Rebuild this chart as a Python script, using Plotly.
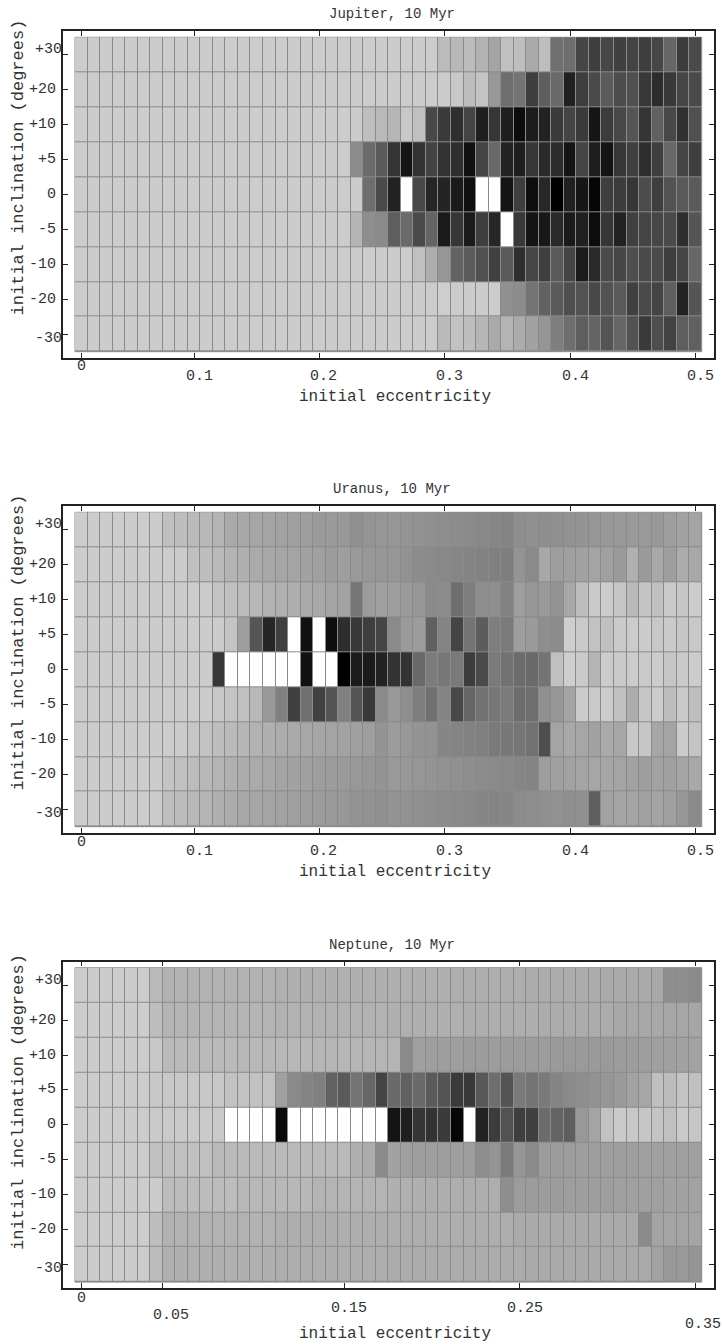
import plotly.graph_objects as go

W, H = 723, 1344

# ---------------- data ----------------
inclination = ["+30", "+20", "+10", "+5", "0", "-5", "-10", "-20", "-30"]

ecc_jupiter = [round(0.01 * k, 2) for k in range(1, 51)]
ecc_uranus = [round(0.01 * k, 2) for k in range(1, 51)]
ecc_neptune = [round(k / 140, 5) for k in range(50)]

# grey level of each cell (0 = black, 255 = white), rows top (+30) to bottom (-30)
jupiter_shade = [
    [204] * 25 + [204, 204, 204, 204, 187, 184, 188, 178, 164, 192, 190, 170, 190, 112, 110, 69, 62, 71, 64, 68, 62, 70, 102, 60, 74],
    [204] * 25 + [204, 204, 204, 204, 204, 200, 189, 196, 152, 110, 116, 62, 94, 106, 32, 62, 74, 90, 76, 80, 56, 44, 57, 70, 74],
    [204] * 23 + [190, 185] + [182, 200, 192, 72, 58, 46, 68, 30, 54, 30, 12, 28, 34, 58, 68, 58, 21, 60, 72, 85, 52, 96, 72, 48, 80],
    [204] * 22 + [140, 106, 90] + [52, 20, 51, 68, 51, 46, 16, 68, 104, 34, 30, 54, 42, 44, 20, 68, 30, 20, 54, 62, 46, 62, 104, 68, 62],
    [204] * 23 + [110, 74] + [34, 255, 72, 38, 36, 26, 16, 255, 255, 20, 62, 14, 40, 0, 32, 22, 6, 62, 60, 54, 76, 62, 82, 89, 90],
    [204] * 22 + [181, 142, 138] + [94, 106, 74, 100, 26, 54, 26, 62, 38, 255, 56, 20, 24, 42, 26, 32, 12, 54, 34, 64, 68, 70, 74, 46, 85],
    [204] * 25 + [204, 204, 192, 174, 150, 98, 92, 80, 64, 90, 46, 70, 62, 90, 68, 26, 42, 74, 70, 78, 74, 74, 62, 70, 102],
    [204] * 25 + [204, 204, 204, 204, 206, 204, 204, 204, 204, 144, 140, 116, 98, 90, 78, 82, 72, 82, 90, 64, 74, 68, 94, 34, 85],
    [204] * 25 + [204, 204, 204, 204, 186, 194, 190, 182, 170, 180, 172, 162, 150, 126, 110, 94, 100, 84, 102, 82, 58, 78, 66, 94, 96],
]

uranus_shade = [
    [204] * 7 + [192, 190, 186, 184, 180, 170, 168, 166, 164, 162, 160, 158, 154, 154, 152, 144, 148, 150]
    + [150, 148, 146, 144, 142, 140, 138, 136, 134, 132, 142, 144, 142, 144, 146, 148, 150, 152, 152, 154, 154, 152, 158, 162, 164],
    [204] * 9 + [192, 190, 186, 180, 176, 170, 168, 166, 164, 162, 160, 156, 158, 154, 152, 150]
    + [150, 146, 140, 138, 136, 134, 132, 130, 128, 126, 148, 138, 168, 158, 160, 162, 164, 160, 154, 176, 154, 168, 158, 172, 168],
    [204] * 11 + [196, 192, 188, 184, 178, 176, 174, 170, 168, 164, 162, 118, 156, 160]
    + [158, 154, 150, 138, 140, 110, 126, 142, 142, 130, 158, 150, 154, 148, 168, 190, 202, 204, 198, 186, 196, 192, 202, 198, 204],
    [204] * 12 + [196, 158, 85, 38, 64, 255, 17, 255, 14, 46, 56, 62, 69]
    + [138, 154, 156, 96, 132, 68, 116, 92, 126, 122, 158, 154, 142, 140, 206, 202, 194, 192, 202, 204, 204, 200, 202, 198, 200],
    [204] * 11 + [54, 255, 255, 255, 255, 255, 255, 17, 255, 255, 0, 28, 26, 34]
    + [51, 51, 106, 124, 120, 122, 60, 74, 122, 114, 108, 106, 116, 192, 206, 202, 180, 204, 202, 204, 202, 204, 198, 202, 204],
    [204] * 11 + [200, 196, 192, 184, 153, 128, 64, 112, 64, 85, 128, 85, 56, 138]
    + [152, 142, 126, 112, 132, 72, 102, 114, 118, 122, 108, 110, 144, 150, 164, 204, 202, 204, 192, 172, 198, 204, 190, 202, 190],
    [204] * 9 + [198, 194, 190, 186, 182, 178, 176, 172, 170, 168, 166, 164, 162, 160, 158, 148]
    + [156, 152, 148, 146, 134, 132, 130, 128, 122, 120, 118, 114, 78, 164, 168, 166, 162, 170, 166, 200, 198, 166, 164, 204, 196],
    [204] * 7 + [196, 192, 188, 184, 180, 176, 172, 170, 168, 164, 162, 160, 158, 156, 154, 152, 150, 148]
    + [154, 152, 150, 148, 146, 144, 142, 140, 138, 136, 134, 132, 158, 160, 162, 164, 166, 166, 164, 162, 158, 162, 160, 164, 168],
    [204] * 7 + [190, 188, 184, 180, 176, 172, 168, 166, 164, 162, 160, 158, 156, 154, 152, 148, 146, 144]
    + [148, 146, 144, 142, 140, 138, 136, 134, 132, 134, 140, 142, 144, 146, 142, 144, 94, 162, 164, 164, 162, 164, 160, 150, 138],
]

neptune_shade = [
    [204] * 6 + [186] + [178] * 9 + [176] * 9
    + [176, 176, 176, 176, 176, 174, 174, 174, 174, 174, 174, 172, 172, 172, 172, 172, 172, 170, 170, 170, 170, 168, 142, 142, 138],
    [204] * 6 + [190] + [180] * 9 + [178] * 9
    + [176] * 6 + [174] * 6 + [172] * 6 + [168] * 4 + [166] * 3,
    [204] * 6 + [200] + [186] * 6 + [184] * 6 + [182] * 6
    + [180, 138, 160, 158, 158, 158, 156, 156, 156, 156, 156, 156, 156, 154, 154, 154, 154, 154, 156, 156, 158, 160, 160, 162, 162],
    [204] * 6 + [200] * 6 + [194] * 4 + [160, 138, 132, 128, 98, 90, 116, 102, 68]
    + [106, 96, 106, 90, 84, 58, 56, 88, 110, 84, 122, 116, 122, 132, 138, 142, 146, 150, 154, 162, 166, 192, 188, 196, 192],
    [204] * 6 + [202] * 6 + [255] * 4 + [10] + [255] * 8
    + [20, 30, 53, 51, 58, 6, 255, 34, 60, 82, 62, 64, 108, 100, 94, 152, 164, 194, 202, 200, 198, 196, 192, 202, 198],
    [204] * 6 + [192] * 5 + [186] * 11 + [176, 172, 138]
    + [162, 160, 158, 158, 158, 158, 158, 142, 148, 122, 150, 138, 156, 156, 156, 158, 158, 158, 158, 158, 160, 160, 160, 160, 160],
    [204] * 7 + [188] * 6 + [184] * 6 + [180] * 6
    + [176, 176, 176, 174, 174, 174, 174, 174, 174, 142, 156, 156, 156, 156, 158, 158, 158, 158, 160, 160, 160, 160, 162, 162, 162],
    [204] * 6 + [190] + [178] * 9 + [174] * 9
    + [174] * 10 + [170] * 10 + [138, 164, 164, 164, 164],
    [204] * 6 + [188] + [176] * 9 + [174] * 9
    + [172] * 11 + [170] * 10 + [162, 152, 154, 148],
]

jupiter_tickvals = [0.01, 0.10, 0.20, 0.30, 0.40, 0.50]
jupiter_ticktext = ["0", "0.1", "0.2", "0.3", "0.4", "0.5"]
uranus_tickvals = [0.01, 0.10, 0.20, 0.30, 0.40, 0.50]
uranus_ticktext = ["0", "0.1", "0.2", "0.3", "0.4", "0.5"]
neptune_tickvals = [0.0, 0.0464, 0.15, 0.25, 0.35]
neptune_ticktext = ["0", "0.05", "0.15", "0.25", "0.35"]

titles = ["Jupiter, 10 Myr", "Uranus, 10 Myr", "Neptune, 10 Myr"]

# ---------------- layout geometry (pixels) ----------------
CELL_L, CELL_R = 75.0, 701.7
FRAME_L, FRAME_R = 63.0, 714.0
CELLS_H = 314.4
ROW_H = CELLS_H / 9
PAD = 6.0
FONT = "Liberation Mono, Courier New, monospace"
TXT = "#333333"
GRID = "#8a8a8a"

panels = [
    dict(title=titles[0], ecc=ecc_jupiter, z=jupiter_shade, tv=jupiter_tickvals, tt=jupiter_ticktext,
         top=37.3, title_y=14, lab_y=[367, 376.7, 376.7, 376.7, 376.7, 376.7], lab_dx=[0, 5, 4, 5, 5, 5],
         xtitle_y=397, ytitle_y=167.5),
    dict(title=titles[1], ecc=ecc_uranus, z=uranus_shade, tv=uranus_tickvals, tt=uranus_ticktext,
         top=512.3, title_y=489, lab_y=[842, 851.7, 851.7, 851.7, 851.7, 851.7], lab_dx=[0, 5, 4, 5, 5, 5],
         xtitle_y=872, ytitle_y=642.5),
    dict(title=titles[2], ecc=ecc_neptune, z=neptune_shade, tv=neptune_tickvals, tt=neptune_ticktext,
         top=967.7, title_y=945, lab_y=[1298, 1315, 1308, 1308, 1324], lab_dx=[0, 8, 5, 5, 8],
         xtitle_y=1334, ytitle_y=1102),
]

fig = go.Figure()
layout = dict(width=W, height=H, margin=dict(l=0, r=0, t=0, b=0),
              paper_bgcolor="white", plot_bgcolor="white", showlegend=False)
annotations = []
shapes = []

for i, p in enumerate(panels, start=1):
    sfx = "" if i == 1 else str(i)
    xref, yref = "x" + sfx, "y" + sfx
    ecc = p["ecc"]
    step = ecc[1] - ecc[0]
    upx = (CELL_R - CELL_L) / (len(ecc) * step)
    x0 = ecc[0] - step / 2 - (CELL_L - FRAME_L) / upx
    x1 = ecc[-1] + step / 2 + (FRAME_R - CELL_R) / upx
    top = p["top"] - PAD
    bottom = p["top"] + CELLS_H + PAD

    fig.add_trace(go.Heatmap(
        x=ecc, y=inclination, z=p["z"], xaxis=xref, yaxis=yref,
        zmin=0, zmax=255, colorscale=[[0, "rgb(0,0,0)"], [1, "rgb(255,255,255)"]],
        showscale=False, xgap=1, ygap=1, hoverinfo="skip"))

    shapes.append(dict(type="rect", xref=xref, yref=yref, layer="below",
                       x0=ecc[0] - step / 2, x1=ecc[-1] + step / 2, y0=-0.5, y1=8.5,
                       fillcolor=GRID, line=dict(color=GRID, width=1)))

    layout["xaxis" + sfx] = dict(
        domain=[FRAME_L / W, FRAME_R / W], range=[x0, x1], anchor=yref,
        showline=True, linecolor="#222", linewidth=1.5, mirror="ticks",
        ticks="inside", ticklen=5, tickwidth=1, tickcolor="#222",
        tickmode="array", tickvals=p["tv"], showticklabels=False,
        showgrid=False, zeroline=False, fixedrange=True)
    layout["yaxis" + sfx] = dict(
        domain=[1 - bottom / H, 1 - top / H], anchor=xref, type="category",
        categoryorder="array", categoryarray=inclination,
        range=[8.5 + PAD / ROW_H, -0.5 - PAD / ROW_H],
        showline=True, linecolor="#222", linewidth=1.5, mirror="ticks",
        ticks="inside", ticklen=5, tickwidth=1, tickcolor="#222",
        tickmode="array", tickvals=inclination, showticklabels=False,
        showgrid=False, zeroline=False, fixedrange=True)

    # title
    annotations.append(dict(text=p["title"], xref="paper", yref="paper", x=392 / W, y=1 - p["title_y"] / H,
                            xanchor="center", yanchor="middle", showarrow=False,
                            font=dict(family=FONT, size=14, color=TXT)))
    # x axis title
    annotations.append(dict(text="initial eccentricity", xref="paper", yref="paper", x=395 / W,
                            y=1 - p["xtitle_y"] / H, xanchor="center", yanchor="middle", showarrow=False,
                            font=dict(family=FONT, size=16, color=TXT)))
    # y axis title
    annotations.append(dict(text="initial inclination (degrees)", xref="paper", yref="paper", x=18 / W,
                            y=1 - p["ytitle_y"] / H, xanchor="center", yanchor="middle", textangle=-90,
                            showarrow=False, font=dict(family=FONT, size=17, color=TXT)))
    # x tick labels
    for v, t, py, dx in zip(p["tv"], p["tt"], p["lab_y"], p["lab_dx"]):
        annotations.append(dict(text=t, xref=xref, yref="paper", x=v, y=1 - py / H, xshift=dx,
                                xanchor="center", yanchor="middle", showarrow=False,
                                font=dict(family=FONT, size=15, color=TXT)))
    # y tick labels
    for k, lab in enumerate(inclination):
        right = 57.3
        dy = 0
        if k == 0:
            right, dy = 63.3, 5
        elif k == len(inclination) - 1:
            right, dy = 63.3, -4
        annotations.append(dict(text=lab, xref="paper", yref=yref, x=right / W, y=k, yshift=dy,
                                xanchor="right", yanchor="middle", showarrow=False, borderpad=0,
                                font=dict(family=FONT, size=15, color=TXT)))

layout["annotations"] = annotations
layout["shapes"] = shapes
fig.update_layout(**layout)
fig.write_html("out.html", config={"displayModeBar": False},
               post_script="document.body.style.margin='0';document.body.style.overflow='hidden';")
